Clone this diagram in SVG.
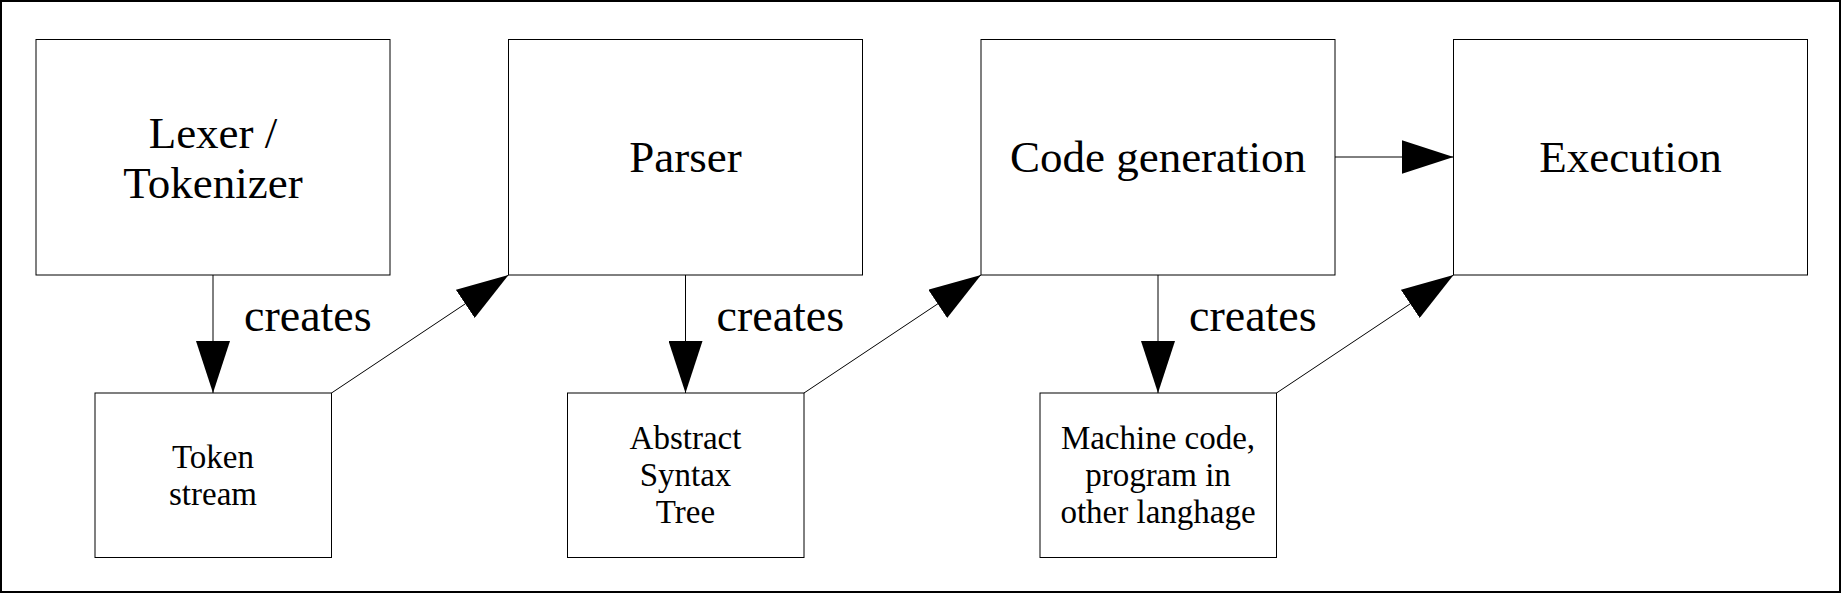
<svg xmlns="http://www.w3.org/2000/svg" width="1841" height="593" viewBox="0 0 1841 593">
<style>
.box{fill:#fff;stroke:#000;stroke-width:1}
.big{font-family:"Liberation Serif","Times New Roman",serif;font-size:45px;fill:#000;text-anchor:middle}
.small{font-family:"Liberation Serif","Times New Roman",serif;font-size:33px;fill:#000;text-anchor:middle}
.lbl{font-family:"Liberation Serif","Times New Roman",serif;font-size:46px;fill:#000}
.conn{stroke:#000;stroke-width:1;fill:none;marker-end:url(#ah)}
</style>
<defs>
<marker id="ah" viewBox="0 0 52 34" refX="52" refY="17" markerWidth="52" markerHeight="34" markerUnits="userSpaceOnUse" orient="auto">
<path d="M0,0 L52,17 L0,34 Z" fill="#000"/>
</marker>
</defs>
<rect x="0" y="0" width="1841" height="593" fill="#fff"/>
<rect x="1" y="1" width="1839" height="591" fill="none" stroke="#000" stroke-width="2"/>
<g id="lexer">
<rect class="box" x="36" y="39.5" width="354" height="235.5"/>
<text class="big" x="213" y="147.5">Lexer /</text>
<text class="big" x="213" y="197.5">Tokenizer</text>
</g>
<g id="parser">
<rect class="box" x="508.5" y="39.5" width="354" height="235.5"/>
<text class="big" x="685.5" y="172">Parser</text>
</g>
<g id="codegen">
<rect class="box" x="981" y="39.5" width="354" height="235.5"/>
<text class="big" x="1158" y="172">Code generation</text>
</g>
<g id="execution">
<rect class="box" x="1453.5" y="39.5" width="354" height="235.5"/>
<text class="big" x="1630.5" y="172">Execution</text>
</g>
<g id="tokenstream">
<rect class="box" x="95" y="393" width="236.5" height="164.5"/>
<text class="small" x="213" y="468">Token</text>
<text class="small" x="213" y="505">stream</text>
</g>
<g id="ast">
<rect class="box" x="567.5" y="393" width="236.5" height="164.5"/>
<text class="small" x="685.5" y="449">Abstract</text>
<text class="small" x="685.5" y="486">Syntax</text>
<text class="small" x="685.5" y="523">Tree</text>
</g>
<g id="machinecode">
<rect class="box" x="1040" y="393" width="236.5" height="164.5"/>
<text class="small" x="1158" y="449">Machine code,</text>
<text class="small" x="1158" y="486">program in</text>
<text class="small" x="1158" y="523">other langhage</text>
</g>
<g id="connectors">
<line class="conn" x1="213" y1="275" x2="213" y2="393"/>
<line class="conn" x1="331.5" y1="393" x2="508.5" y2="275"/>
<line class="conn" x1="685.5" y1="275" x2="685.5" y2="393"/>
<line class="conn" x1="804" y1="393" x2="981" y2="275"/>
<line class="conn" x1="1158" y1="275" x2="1158" y2="393"/>
<line class="conn" x1="1276.5" y1="393" x2="1453.5" y2="275"/>
<line class="conn" x1="1335" y1="157" x2="1453.5" y2="157"/>
<text class="lbl" x="244" y="331">creates</text>
<text class="lbl" x="716.5" y="331">creates</text>
<text class="lbl" x="1189" y="331">creates</text>
</g>
</svg>
